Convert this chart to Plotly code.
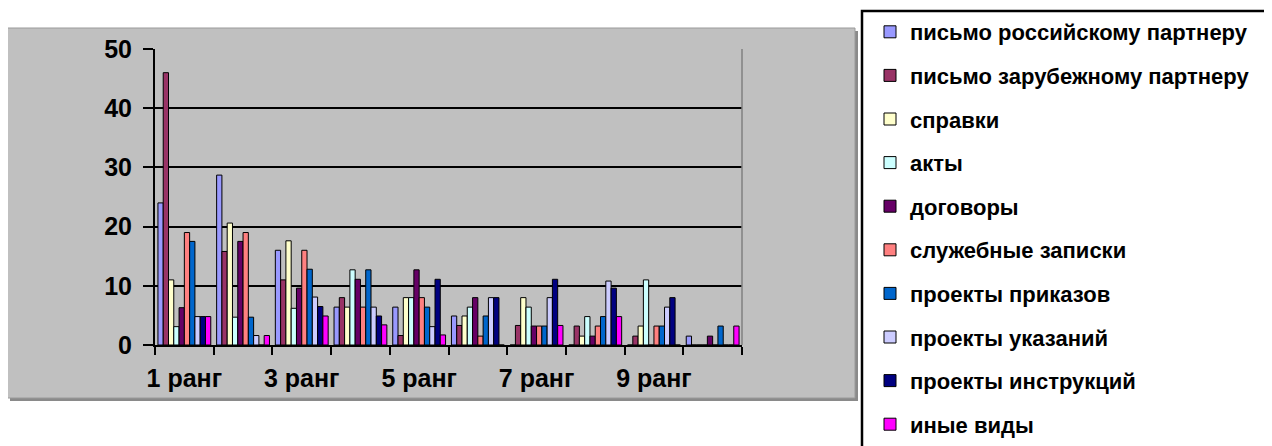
import plotly.graph_objects as go

categories = ["1 ранг", "2 ранг", "3 ранг", "4 ранг", "5 ранг",
              "6 ранг", "7 ранг", "8 ранг", "9 ранг", "10 ранг"]
tick_labels = ["1 ранг", "", "3 ранг", "", "5 ранг", "", "7 ранг", "", "9 ранг", ""]
y_ticks = [0, 10, 20, 30, 40, 50]

series_names = [
    "письмо российскому партнеру",
    "письмо зарубежному партнеру",
    "справки",
    "акты",
    "договоры",
    "служебные записки",
    "проекты приказов",
    "проекты указаний",
    "проекты инструкций",
    "иные виды",
]

ros_partner = [24, 28.7, 16, 6.4, 6.4, 4.9, 0, 0, 0, 1.5]
zar_partner = [46, 15.8, 11, 8, 1.6, 3.3, 3.3, 3.2, 1.5, 0]
spravki = [11, 20.6, 17.6, 6.4, 8, 4.9, 8, 1.5, 3.2, 0]
akty = [3.1, 4.7, 6.2, 12.7, 8, 6.4, 6.4, 4.8, 11, 0]
dogovory = [6.3, 17.5, 9.6, 11.1, 12.7, 8, 3.2, 1.5, 0, 1.5]
sluzh = [19, 19, 16, 6.4, 8, 1.5, 3.2, 3.2, 3.2, 0]
prikazy = [17.5, 4.7, 12.8, 12.7, 6.4, 4.9, 3.2, 4.8, 3.2, 3.2]
ukazania = [4.8, 1.6, 8.1, 6.4, 3.1, 8, 8, 10.8, 6.4, 0]
instrukcii = [4.8, 0, 6.5, 4.9, 11.1, 8, 11.1, 9.6, 8, 0]
inye = [4.8, 1.6, 4.9, 3.4, 1.7, 0, 3.3, 4.8, 0, 3.2]

series_values = [ros_partner, zar_partner, spravki, akty, dogovory,
                 sluzh, prikazy, ukazania, instrukcii, inye]
colors = ["#9999FF", "#993366", "#FFFFCC", "#CCFFFF", "#660066",
          "#FF8080", "#0066CC", "#CCCCFF", "#000080", "#FF00FF"]

FONT = "Liberation Sans, Arial, sans-serif"

fig = go.Figure()
for name, vals, col in zip(series_names, series_values, colors):
    fig.add_trace(go.Bar(
        x=categories, y=vals, name=name, legendgroup=name,
        marker=dict(color=col, line=dict(color="#000000", width=1)),
    ))

# the page body has an 8px margin, so the figure is 8px smaller than the window
OFF = 8
W, H = 1272 - OFF, 446 - OFF
L, T = 155 - OFF, 49 - OFF
PW, PH = 587, 296
R, B = W - L - PW, H - T - PH


def px_x(p):
    return (p - OFF - L) / PW


def px_y(p):
    return (H - B - (p - OFF)) / PH


shapes = [
    dict(type="rect", xref="paper", yref="paper", layer="below",
         x0=px_x(10), x1=px_x(858), y0=px_y(401), y1=px_y(31),
         fillcolor="#8a8a8a", line=dict(width=0)),
    dict(type="rect", xref="paper", yref="paper", layer="below",
         x0=px_x(7), x1=px_x(855), y0=px_y(398), y1=px_y(28),
         fillcolor="#C0C0C0", line=dict(color="#9a9a9a", width=1)),
    dict(type="line", xref="paper", yref="paper",
         x0=1, x1=1, y0=0, y1=1, line=dict(color="#808080", width=1.5)),
    dict(type="rect", xref="paper", yref="paper", layer="below",
         x0=px_x(862), x1=px_x(1300), y0=px_y(480), y1=px_y(11),
         fillcolor="#FFFFFF", line=dict(color="#000000", width=2.5)),
]

fig.update_layout(
    width=W, height=H,
    margin=dict(l=L, r=R, t=T, b=B, pad=0, autoexpand=False),
    paper_bgcolor="#FFFFFF",
    plot_bgcolor="#C0C0C0",
    barmode="group",
    bargap=0.1,
    bargroupgap=0,
    font=dict(family=FONT, size=22, color="#000000", weight="bold"),
    shapes=shapes,
    showlegend=True,
    legend=dict(
        x=px_x(870), xanchor="left",
        y=px_y(11), yanchor="top",
        bgcolor="rgba(0,0,0,0)",
        borderwidth=0,
        tracegroupgap=12,
        maxheight=1000,
        font=dict(family=FONT, size=22, color="#000000", weight="bold"),
        itemclick=False,
    ),
    xaxis=dict(
        type="category",
        tickmode="array",
        tickvals=categories,
        ticktext=tick_labels,
        tickson="boundaries",
        tickangle=0,
        automargin=False,
        ticklabelstandoff=10,
        ticks="outside", ticklen=8, tickcolor="#000000", tickwidth=1.5,
        showline=True, linecolor="#000000", linewidth=2,
        showgrid=False,
        tickfont=dict(family=FONT, size=25, color="#000000", weight="bold"),
        fixedrange=True,
    ),
    yaxis=dict(
        range=[0, 50],
        tickmode="array",
        tickvals=y_ticks,
        automargin=False,
        ticks="outside", ticklen=10, tickcolor="#000000", tickwidth=1.5,
        ticklabelstandoff=6,
        showline=True, linecolor="#000000", linewidth=2,
        showgrid=True, gridcolor="#000000", gridwidth=1.5,
        zeroline=False,
        tickfont=dict(family=FONT, size=25, color="#000000", weight="bold"),
        fixedrange=True,
    ),
)

fig.write_html("out.html")
